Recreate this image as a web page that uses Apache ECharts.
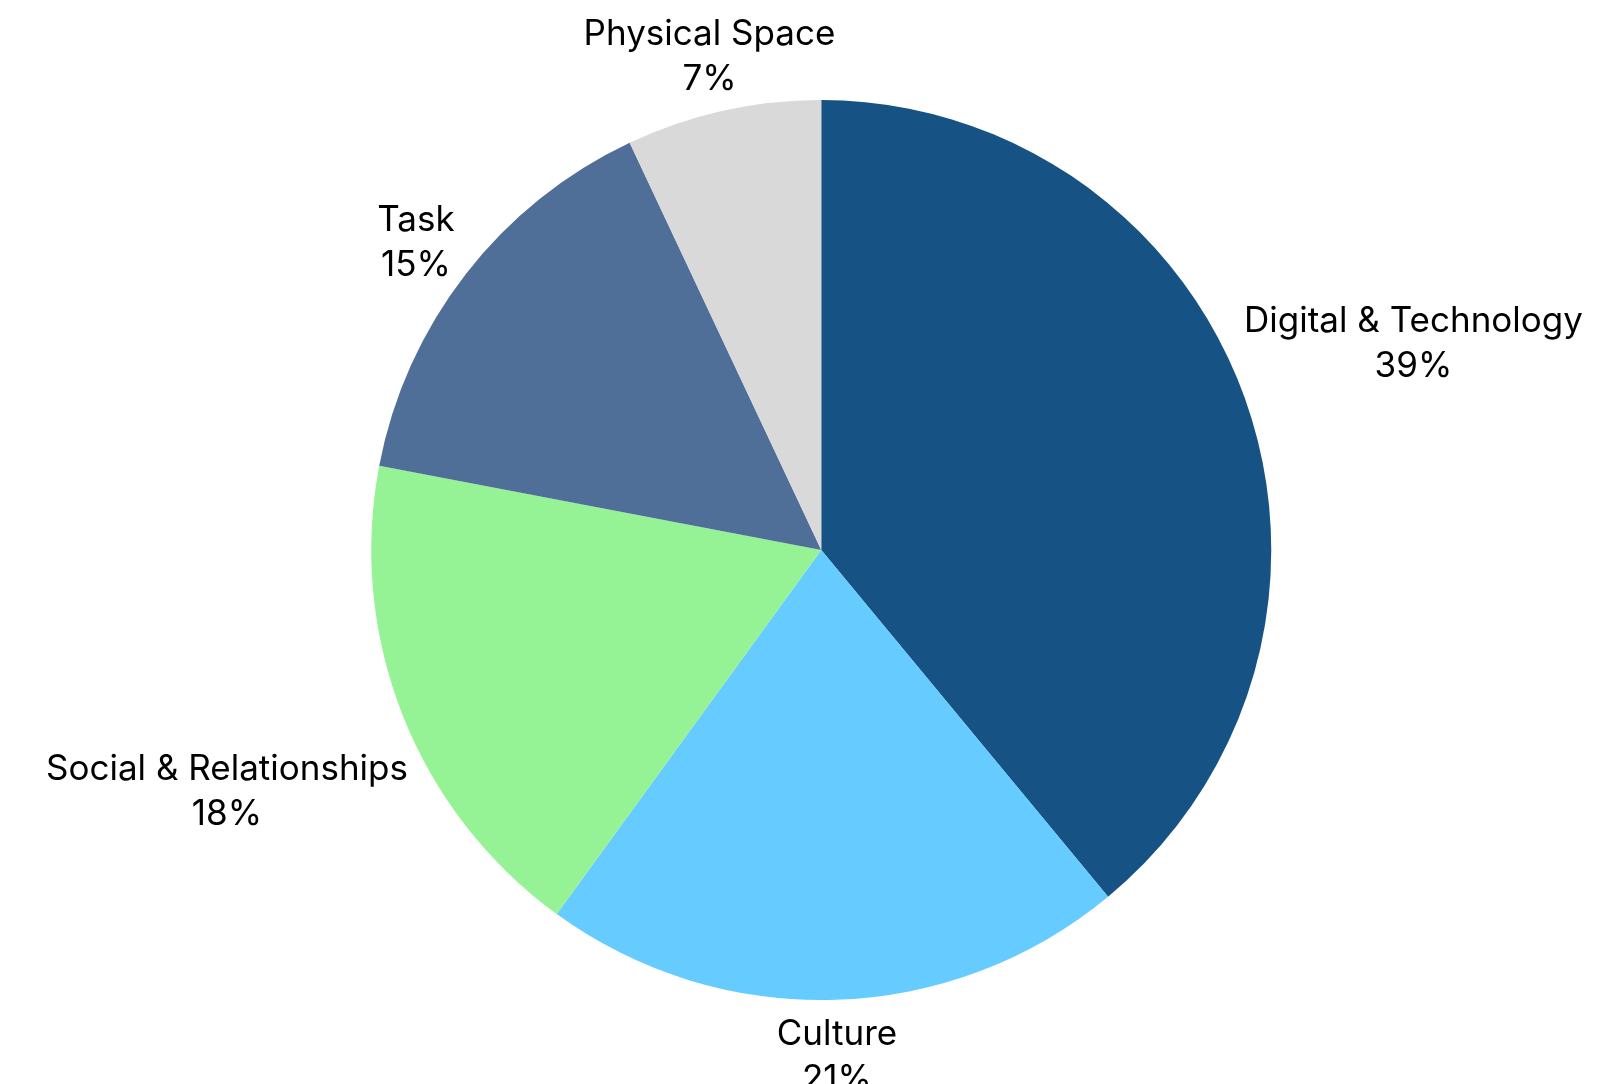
<!DOCTYPE html>
<html>
<head>
<meta charset="utf-8">
<script src="https://cdn.jsdelivr.net/npm/echarts@6/dist/echarts.min.js"></script>
<style>
html,body{margin:0;padding:0;background:#fff;}
#chart{width:1610px;height:1084px;}
</style>
</head>
<body>
<div id="chart"></div>
<script>
const categories = ['Digital & Technology', 'Culture', 'Social & Relationships', 'Task', 'Physical Space'];
const values = [39, 21, 18, 15, 7];
const colors = ['#165283', '#66CBFF', '#95F295', '#4F6E98', '#D9D9D9'];

const CX = 0.5101, CY = 0.5074, R = 450, GAP = 5, TEXT_SHIFT = 7;
const total = values.reduce((a, b) => a + b, 0);

const chart = echarts.init(document.getElementById('chart'), null, { renderer: 'canvas' });

function labelPos(params) {
  const W = chart.getWidth(), H = chart.getHeight();
  const cx = W * CX, cy = H * CY;
  let cum = 0;
  for (let i = 0; i < params.dataIndex; i++) cum += values[i];
  const a = (cum + values[params.dataIndex] / 2) / total * Math.PI * 2;
  const dx = Math.sin(a), dy = -Math.cos(a);
  const w = params.labelRect.width / 2, h = params.labelRect.height / 2;
  let lo = 0, hi = 3000;
  for (let k = 0; k < 60; k++) {
    const t = (lo + hi) / 2;
    const ex = Math.max(0, Math.abs(t * dx) - w);
    const ey = Math.max(0, Math.abs(t * dy) - h);
    if (Math.hypot(ex, ey) < R + GAP) lo = t; else hi = t;
  }
  const t = (lo + hi) / 2;
  return { x: cx + t * dx, y: cy + t * dy + TEXT_SHIFT, align: 'center', verticalAlign: 'middle' };
}

chart.setOption({
  animation: false,
  backgroundColor: '#ffffff',
  series: [{
    type: 'pie',
    center: [(CX * 100) + '%', (CY * 100) + '%'],
    radius: R,
    startAngle: 90,
    clockwise: true,
    avoidLabelOverlap: false,
    data: categories.map((c, i) => ({ name: c, value: values[i], itemStyle: { color: colors[i] } })),
    itemStyle: { borderWidth: 0 },
    label: {
      show: true,
      position: 'outside',
      formatter: p => p.name + '\n' + values[p.dataIndex] + '%',
      fontFamily: 'Inter',
      fontSize: 35,
      lineHeight: 45,
      color: '#000000'
    },
    labelLine: { show: false },
    labelLayout: labelPos,
    emphasis: { disabled: true }
  }]
});
</script>
</body>
</html>
